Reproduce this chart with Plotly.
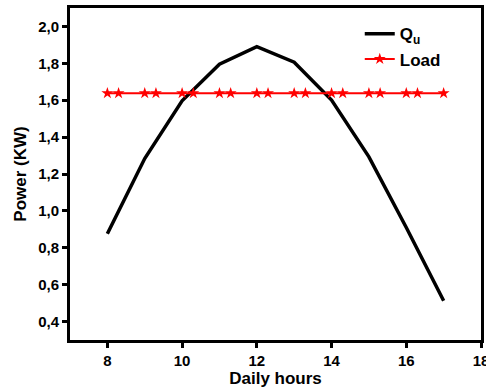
import plotly.graph_objects as go

hours_qu = [8, 9, 10, 11, 12, 13, 14, 15, 16, 17]
qu_values = [0.876, 1.284, 1.597, 1.795, 1.891, 1.806, 1.601, 1.293, 0.91, 0.513]

hours_load = [8, 8.3, 9, 9.3, 10, 10.3, 11, 11.3, 12, 12.3, 13, 13.3, 14, 14.3, 15, 15.3, 16, 16.3, 17]
load_values = [1.638] * len(hours_load)

x_ticks = [8, 10, 12, 14, 16, 18]
y_ticks = [0.4, 0.6, 0.8, 1.0, 1.2, 1.4, 1.6, 1.8, 2.0]

FONT = "Liberation Sans, Arial, sans-serif"

fig = go.Figure()
fig.add_trace(go.Scatter(
    x=hours_qu, y=qu_values, mode="lines", name="Q<sub>u</sub>",
    line=dict(color="black", width=3.5),
))
fig.add_trace(go.Scatter(
    x=hours_load, y=load_values, mode="lines+markers", name="Load",
    line=dict(color="red", width=2),
    marker=dict(symbol="star", size=9, color="red"),
))

axis_common = dict(
    showline=True, linecolor="black", linewidth=3, mirror=True,
    ticks="outside", ticklen=5, tickwidth=3, tickcolor="black",
    showgrid=False, zeroline=False, automargin=False,
    ticklabeloverflow="allow",
    tickfont=dict(family=FONT, size=15, color="black", weight="bold"),
)

fig.update_layout(
    width=486, height=390,
    margin=dict(l=70, r=5, t=8, b=50),
    paper_bgcolor="white", plot_bgcolor="white",
    separators=",.",
    showlegend=True,
    legend=dict(
        x=0.705, y=0.975, xanchor="left", yanchor="top",
        bgcolor="rgba(0,0,0,0)",
        font=dict(family=FONT, size=17, color="black", weight="bold"),
    ),
    xaxis=dict(
        range=[7, 18], tickvals=x_ticks,
        title=dict(text="Daily hours", standoff=4,
                   font=dict(family=FONT, size=17, color="black", weight="bold")),
        **axis_common,
    ),
    yaxis=dict(
        range=[0.3, 2.1], tickvals=y_ticks, tickformat=".1f",
        title=dict(text="Power (KW)", standoff=8,
                   font=dict(family=FONT, size=17, color="black", weight="bold")),
        **axis_common,
    ),
)

fig.write_html("out.html")
